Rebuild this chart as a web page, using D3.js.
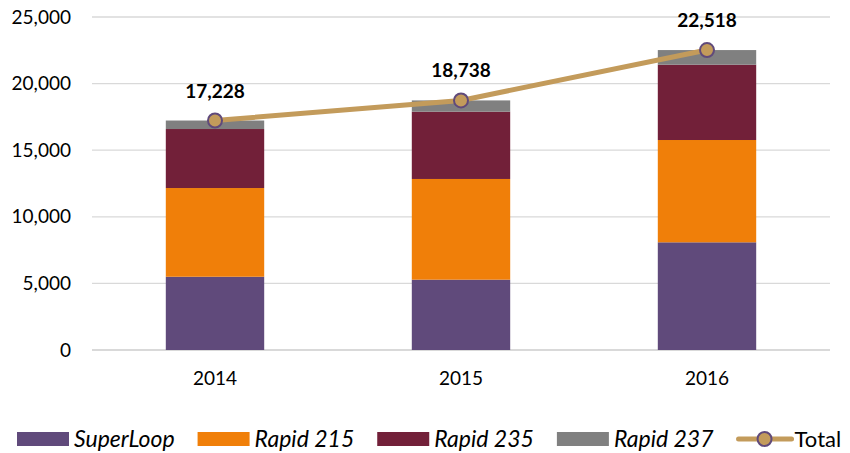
<!DOCTYPE html>
<html>
<head>
<meta charset="utf-8">
<script src="https://cdn.jsdelivr.net/npm/d3@7"></script>
<style>
  html, body { margin: 0; padding: 0; background: #ffffff; }
  svg { display: block; }
  text { font-family: Lato, "Open Sans", sans-serif; fill: #000; }
</style>
</head>
<body>
<svg id="chart" width="850" height="453"></svg>
<script>
// Ridership by route, stacked per year, with the yearly total on top
const years = ["2014", "2015", "2016"];
const superLoop = [5500, 5280, 8085];
const rapid215 = [6660, 7560, 7680];
const rapid235 = [4430, 5050, 5655];
const rapid237 = [638, 848, 1098];
const totals = [17228, 18738, 22518];
const yTicks = [0, 5000, 10000, 15000, 20000, 25000];

const seriesNames = ["SuperLoop", "Rapid 215", "Rapid 235", "Rapid 237"];
const seriesValues = [superLoop, rapid215, rapid235, rapid237];
const colors = ["#604a7b", "#f07f09", "#722039", "#808080"];
const lineColor = "#c39b5b";
const markerStroke = "#604a7b";

const svg = d3.select("#chart");
const margin = { left: 92, right: 20, top: 17, bottom: 103 };
const W = 850, H = 453;

const x = d3.scaleBand()
  .domain(years)
  .range([margin.left, W - margin.right])
  .paddingInner(0.6)
  .paddingOuter(0.3);

const y = d3.scaleLinear()
  .domain([0, 25000])
  .range([H - margin.bottom, margin.top]);

// Gridlines
svg.append("g")
  .selectAll("line")
  .data(yTicks)
  .join("line")
  .attr("x1", margin.left)
  .attr("x2", W - margin.right)
  .attr("y1", d => y(d))
  .attr("y2", d => y(d))
  .attr("stroke", "#d9d9d9")
  .attr("stroke-width", d => d === 0 ? 2 : 1.3);

// Y axis labels
const yAxis = d3.axisLeft(y)
  .tickValues(yTicks)
  .tickFormat(d3.format(","))
  .tickSize(0)
  .tickPadding(21);
const yg = svg.append("g")
  .attr("transform", `translate(${margin.left},0)`)
  .call(yAxis);
yg.select(".domain").remove();
yg.selectAll("text")
  .attr("font-family", "Lato, sans-serif")
  .attr("font-size", 19)
  .attr("fill", "#000");

// X axis labels
const xAxis = d3.axisBottom(x).tickSize(0).tickPadding(22);
const xg = svg.append("g")
  .attr("transform", `translate(0,${y(0)})`)
  .call(xAxis);
xg.select(".domain").remove();
xg.selectAll("text")
  .attr("font-family", "Lato, sans-serif")
  .attr("font-size", 19)
  .attr("fill", "#000");

// Stacked bars
const rows = years.map((yr, i) => {
  const r = { year: yr };
  seriesNames.forEach((n, k) => { r[n] = seriesValues[k][i]; });
  return r;
});
const stacked = d3.stack().keys(seriesNames)(rows);

svg.append("g")
  .selectAll("g")
  .data(stacked)
  .join("g")
  .attr("fill", (d, i) => colors[i])
  .selectAll("rect")
  .data(d => d)
  .join("rect")
  .attr("x", d => x(d.data.year))
  .attr("width", x.bandwidth())
  .attr("y", d => y(d[1]))
  .attr("height", d => y(d[0]) - y(d[1]));

// Total line with markers
const cx = yr => x(yr) + x.bandwidth() / 2;
const line = d3.line()
  .x((d, i) => cx(years[i]))
  .y(d => y(d));

svg.append("path")
  .datum(totals)
  .attr("d", line)
  .attr("fill", "none")
  .attr("stroke", lineColor)
  .attr("stroke-width", 5)
  .attr("stroke-linecap", "round");

svg.append("g")
  .selectAll("circle")
  .data(totals)
  .join("circle")
  .attr("cx", (d, i) => cx(years[i]))
  .attr("cy", d => y(d))
  .attr("r", 7)
  .attr("fill", lineColor)
  .attr("stroke", markerStroke)
  .attr("stroke-width", 2);

// Total value labels
svg.append("g")
  .selectAll("text")
  .data(totals)
  .join("text")
  .attr("x", (d, i) => cx(years[i]))
  .attr("y", d => y(d) - 23)
  .attr("text-anchor", "middle")
  .attr("font-size", 19)
  .attr("font-weight", "bold")
  .text(d => d3.format(",")(d));

// Legend
const legend = svg.append("g").attr("transform", "translate(0,439)");
const items = seriesNames.map((n, i) => ({ name: n, color: colors[i], type: "bar" }))
  .concat([{ name: "Total", type: "line" }]);

let lx = 17;
items.forEach(it => {
  const g = legend.append("g").attr("transform", `translate(${lx},0)`);
  let sw;
  if (it.type === "bar") {
    g.append("rect")
      .attr("x", 0).attr("y", -7)
      .attr("width", 52).attr("height", 14)
      .attr("fill", it.color);
    sw = 57;
  } else {
    g.append("line")
      .attr("x1", 2).attr("x2", 55)
      .attr("y1", 0).attr("y2", 0)
      .attr("stroke", lineColor)
      .attr("stroke-width", 5)
      .attr("stroke-linecap", "round");
    g.append("circle")
      .attr("cx", 28).attr("cy", 0).attr("r", 7)
      .attr("fill", lineColor)
      .attr("stroke", markerStroke)
      .attr("stroke-width", 2);
    sw = 58;
  }
  const t = g.append("text")
    .attr("x", sw)
    .attr("y", 0)
    .attr("dy", "0.35em")
    .attr("font-size", it.type === "bar" ? 23 : 22)
    .attr("font-style", it.type === "bar" ? "italic" : "normal")
    .text(it.name);
  lx += sw + t.node().getComputedTextLength() + 23;
});
</script>
</body>
</html>
